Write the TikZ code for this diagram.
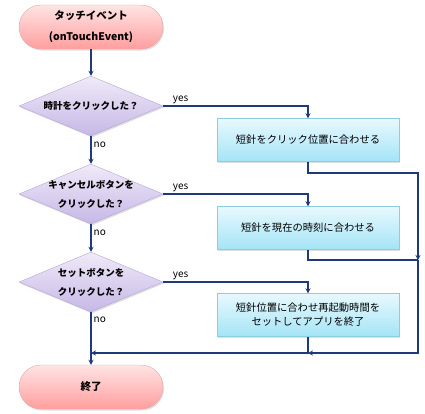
\documentclass[tikz,border=0pt]{standalone}
\usepackage{fontspec}
\setmainfont{Noto Sans CJK JP}
\usetikzlibrary{shapes.geometric,shadows,arrows.meta}
\definecolor{navy}{HTML}{1F3A78}
\definecolor{pinktop}{HTML}{FFE4E4}
\definecolor{pinkbot}{HTML}{FF9E9E}
\definecolor{pinkline}{HTML}{E8A4A4}
\definecolor{lilactop}{HTML}{F0EAF8}
\definecolor{lilacbot}{HTML}{C6B8E6}
\definecolor{lilacline}{HTML}{B4A6D8}
\definecolor{aquatop}{HTML}{E8F9FE}
\definecolor{aquabot}{HTML}{A4E4F6}
\definecolor{aqualine}{HTML}{8CCDE2}
\tikzset{
  terminal/.style={draw=pinkline, rounded corners=22pt, minimum width=144pt, minimum height=44pt,
    top color=pinktop, bottom color=pinkbot, font=\bfseries\fontsize{10.5}{21}\selectfont, align=center,
    drop shadow={opacity=0.25, shadow xshift=1pt, shadow yshift=-1.5pt}},
  decision/.style={diamond, draw=lilacline, aspect=2.4, inner sep=-4pt, minimum width=144pt, minimum height=60pt,
    top color=lilactop, bottom color=lilacbot, font=\bfseries\fontsize{9.5}{19}\selectfont, align=center,
    drop shadow={opacity=0.25, shadow xshift=1pt, shadow yshift=-1.5pt}},
  process/.style={draw=aqualine, minimum width=182pt, minimum height=43pt,
    top color=aquatop, bottom color=aquabot, font=\fontsize{10.3}{14}\selectfont, align=center,
    drop shadow={opacity=0.25, shadow xshift=1pt, shadow yshift=-1.5pt}},
  line/.style={draw=navy, line width=1.3pt},
  arr/.style={line, -{Stealth[length=5pt,width=5pt]}},
  lbl/.style={font=\fontsize{10}{12}\selectfont, text=black, inner sep=2pt}
}
\begin{document}
\begin{tikzpicture}[x=1pt,y=-1pt]
\useasboundingbox (0,0) rectangle (425,413);
% nodes
\node[terminal] (start) at (91,27) {タッチイベント\\(onTouchEvent)};
\node[decision] (d1) at (91,106) {時計をクリックした？};
\node[process] (p1) at (308,140) {短針をクリック位置に合わせる};
\node[decision] (d2) at (91,194) {キャンセルボタンを\\クリックした？};
\node[process] (p2) at (308,228) {短針を現在の時刻に合わせる};
\node[decision] (d3) at (91,282) {セットボタンを\\クリックした？};
\node[process] (p3) at (308,315) {短針位置に合わせ再起動時間を\\セットしてアプリを終了};
\node[terminal] (stop) at (91,387) {終了};
% joints
\coordinate (j1) at (418,173);
\coordinate (j2) at (418,260);
\coordinate (j3) at (308,353);
\coordinate (j4) at (91,353);
% connectors
\draw[arr] (start) -- (d1);
\draw[arr] (d1) -- node[lbl, pos=0.3, right]{no} (d2);
\draw[arr] (d2) -- node[lbl, pos=0.3, right]{no} (d3);
\draw[arr] (d3) -- node[lbl, pos=0.15, right]{no} (stop);
\draw[arr] (d1.east) -| node[lbl, pos=0.06, above]{yes} (p1.north);
\draw[arr] (d2.east) -| node[lbl, pos=0.06, above]{yes} (p2.north);
\draw[arr] (d3.east) -| node[lbl, pos=0.06, above]{yes} (p3.north);
\draw[arr] (p1.south) |- (j1) -- (j2);
\draw[line] (p2.south) |- (j2);
\draw[arr] (j2) |- (j3);
\draw[arr] (p3.south) |- (j4);
\end{tikzpicture}
\end{document}
